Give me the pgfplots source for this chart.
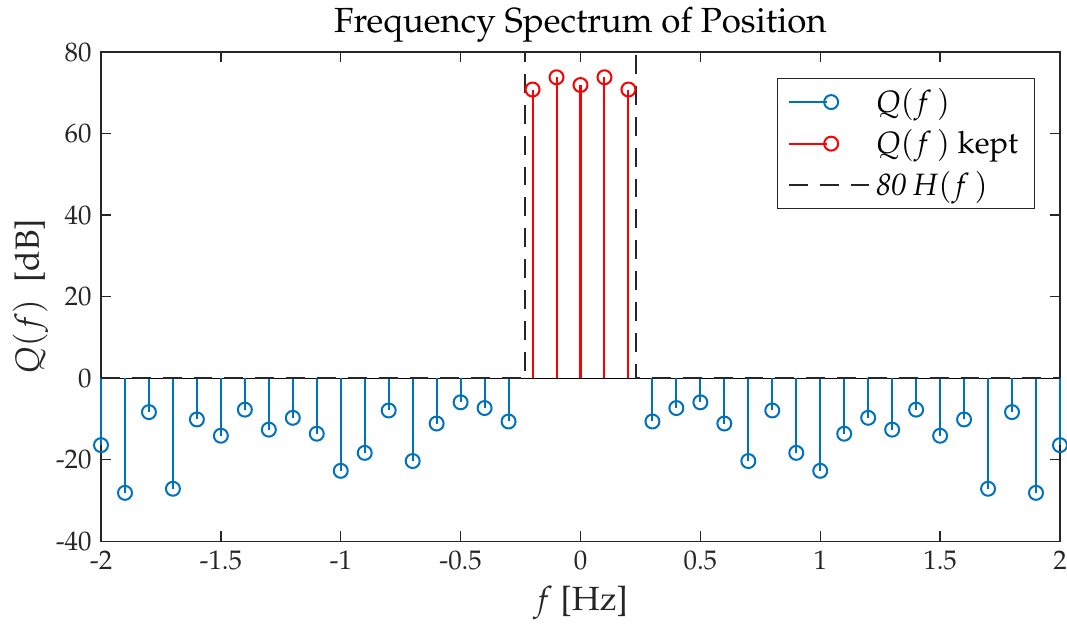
\documentclass[border=0pt]{standalone}
\usepackage[T1]{fontenc}
\usepackage{mathpazo}
\usepackage{pgfplots}
\pgfplotsset{compat=1.18}

\definecolor{mblue}{rgb}{0,0.447,0.741}
\definecolor{axgray}{rgb}{0.15,0.15,0.15}

% |Q(f)| in dB, samples every 0.1 Hz
\pgfplotstableread{
f Q
-2.0 -16.4
-1.9 -28.1
-1.8 -8.3
-1.7 -27.1
-1.6 -10.1
-1.5 -14.1
-1.4 -7.7
-1.3 -12.6
-1.2 -9.7
-1.1 -13.6
-1.0 -22.7
-0.9 -18.3
-0.8 -7.9
-0.7 -20.3
-0.6 -11.1
-0.5 -5.9
-0.4 -7.3
-0.3 -10.6
0.3 -10.6
0.4 -7.3
0.5 -5.9
0.6 -11.1
0.7 -20.3
0.8 -7.9
0.9 -18.3
1.0 -22.7
1.1 -13.6
1.2 -9.7
1.3 -12.6
1.4 -7.7
1.5 -14.1
1.6 -10.1
1.7 -27.1
1.8 -8.3
1.9 -28.1
2.0 -16.4
}\dropped

\pgfplotstableread{
f Q
-0.2 70.8
-0.1 73.8
0.0 71.9
0.1 73.8
0.2 70.8
}\kept

\pgfplotstableread{
f H
-2.0 0
-0.23 0
-0.23 80
0.23 80
0.23 0
2.0 0
}\window

\pgfplotsset{
  stemleg/.style={legend image code/.code={
    \draw[##1] (0cm,0cm) -- (0.5cm,0cm);
    \draw[##1] plot[only marks] coordinates {(0.55cm,0cm)};
    \path (1.05cm,0cm);
  }},
  dashleg/.style={legend image code/.code={
    \draw[##1] (0cm,0cm) -- (1.05cm,0cm);
  }},
}

\begin{document}
\begin{tikzpicture}
\begin{axis}[
  name=ax,
  scale only axis,
  width=12.56cm, height=6.41cm,
  xmin=-2, xmax=2, ymin=-40, ymax=80,
  xtick={-2,-1.5,-1,-0.5,0,0.5,1,1.5,2},
  xticklabels={-2,-1.5,-1,-0.5,0,0.5,1,1.5,2},
  ytick={-40,-20,0,20,40,60,80},
  yticklabels={-40,-20,0,20,40,60,80},
  tick align=inside,
  major tick length=0.13cm,
  axis line style={axgray, line width=0.5pt},
  tick style={axgray, line width=0.5pt},
  ticklabel style={font=\fontsize{10}{12}\selectfont, text=axgray},
  title={Frequency Spectrum of Position},
  title style={font=\fontsize{13}{15}\selectfont, yshift=-6pt},
  xlabel={$f$ [Hz]},
  ylabel={$Q(f)$\ \ [dB]},
  label style={font=\fontsize{12.5}{14}\selectfont, text=axgray},
  xlabel style={yshift=1pt},
  ylabel style={yshift=-4pt},
  clip=false,
  legend style={at={(0.974,0.947)}, anchor=north east, draw=axgray,
    line width=0.5pt, font=\fontsize{11.5}{14}\selectfont,
    inner xsep=4pt, inner ysep=1.5pt, row sep=1pt},
  legend cell align=left,
]
\addlegendimage{stemleg, mblue, line width=0.75pt, mark=o, mark size=2.6pt}
\addlegendimage{stemleg, red, line width=0.75pt, mark=o, mark size=2.6pt}
\addlegendimage{dashleg, axgray, line width=0.8pt, dash pattern=on 7pt off 4.5pt}
\legend{$Q(f\,)$, $Q(f\,)$ kept, \textit{80}\,$H(f\,)$}

\addplot[black, line width=0.5pt, forget plot] coordinates {(-2,0) (2,0)};
\addplot[mblue, ycomb, line width=0.75pt, mark=o, mark size=2.6pt, forget plot]
  table[x=f, y=Q] {\dropped};
\addplot[red, ycomb, line width=0.75pt, mark=o, mark size=2.6pt, forget plot]
  table[x=f, y=Q] {\kept};
\addplot[axgray, line width=0.8pt, dash pattern=on 7pt off 4.5pt, forget plot]
  table[x=f, y=H] {\window};
\end{axis}
\pgfresetboundingbox
\path[use as bounding box] ([xshift=-1.323cm, yshift=-1.10cm]ax.south west)
  rectangle ([xshift=0.092cm, yshift=0.681cm]ax.north east);
\end{tikzpicture}
\end{document}
